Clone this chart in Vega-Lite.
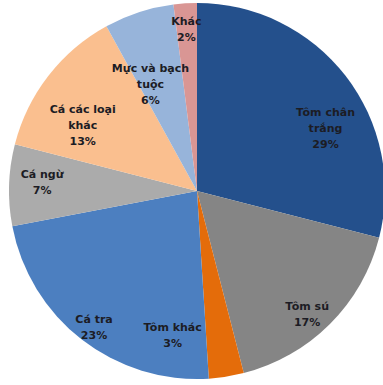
{
  "$schema": "https://vega.github.io/schema/vega-lite/v6.json",
  "autosize": {"type": "fit", "contains": "padding"},
  "width": 383,
  "height": 385,
  "padding": {"left": 11, "right": 0, "top": 0, "bottom": 3},
  "background": "white",
  "config": {"view": {"stroke": null}, "text": {"font": "DejaVu Sans", "fontSize": 11, "fontWeight": "bold", "color": "#1c1c24", "lineHeight": 16}},
  "data": {
    "values": [
      {"i": 1, "label": "Tôm chân trắng", "value": 29, "lines": ["Tôm chân", "trắng", "29%"]},
      {"i": 2, "label": "Tôm sú", "value": 17, "lines": ["Tôm sú", "17%"]},
      {"i": 3, "label": "Tôm khác", "value": 3, "lines": ["Tôm khác", "3%"]},
      {"i": 4, "label": "Cá tra", "value": 23, "lines": ["Cá tra", "23%"]},
      {"i": 5, "label": "Cá ngừ", "value": 7, "lines": ["Cá ngừ", "7%"]},
      {"i": 6, "label": "Cá các loại khác", "value": 13, "lines": ["Cá các loại", "khác", "13%"]},
      {"i": 7, "label": "Mực và bạch tuộc", "value": 6, "lines": ["Mực và bạch", "tuộc", "6%"]},
      {"i": 8, "label": "Khác", "value": 2, "lines": ["Khác", "2%"]}
    ]
  },
  "encoding": {
    "theta": {"field": "value", "type": "quantitative", "stack": true},
    "order": {"field": "i", "type": "quantitative"}
  },
  "layer": [
    {
      "mark": {"type": "arc", "outerRadius": 188},
      "encoding": {
        "color": {
          "field": "label",
          "type": "nominal",
          "legend": null,
          "scale": {
            "domain": ["Tôm chân trắng", "Tôm sú", "Tôm khác", "Cá tra", "Cá ngừ", "Cá các loại khác", "Mực và bạch tuộc", "Khác"],
            "range": ["#24508C", "#858585", "#E46C0A", "#4C7FC0", "#ABABAB", "#FABF8F", "#97B4DA", "#D99694"]
          }
        }
      }
    },
    {
      "mark": {"type": "text", "radius": 150, "dx": 10, "dy": 14},
      "encoding": {"text": {"condition": {"test": "datum.label === 'Tôm chân trắng'", "field": "lines"}, "value": ""}}
    },
    {
      "mark": {"type": "text", "radius": 160, "dx": -3, "dy": 3},
      "encoding": {"text": {"condition": {"test": "datum.label === 'Tôm sú'", "field": "lines"}, "value": ""}}
    },
    {
      "mark": {"type": "text", "radius": 138, "dx": -46, "dy": 1},
      "encoding": {"text": {"condition": {"test": "datum.label === 'Tôm khác'", "field": "lines"}, "value": ""}}
    },
    {
      "mark": {"type": "text", "radius": 168, "dx": 0, "dy": -4},
      "encoding": {"text": {"condition": {"test": "datum.label === 'Cá tra'", "field": "lines"}, "value": ""}}
    },
    {
      "mark": {"type": "text", "radius": 155, "dx": 0, "dy": -11},
      "encoding": {"text": {"condition": {"test": "datum.label === 'Cá ngừ'", "field": "lines"}, "value": ""}}
    },
    {
      "mark": {"type": "text", "radius": 132, "dx": -10, "dy": 0},
      "encoding": {"text": {"condition": {"test": "datum.label === 'Cá các loại khác'", "field": "lines"}, "value": ""}}
    },
    {
      "mark": {"type": "text", "radius": 128, "dx": -7, "dy": 0},
      "encoding": {"text": {"condition": {"test": "datum.label === 'Mực và bạch tuộc'", "field": "lines"}, "value": ""}}
    },
    {
      "mark": {"type": "text", "radius": 169, "dx": 0, "dy": 0},
      "encoding": {"text": {"condition": {"test": "datum.label === 'Khác'", "field": "lines"}, "value": ""}}
    }
  ]
}
